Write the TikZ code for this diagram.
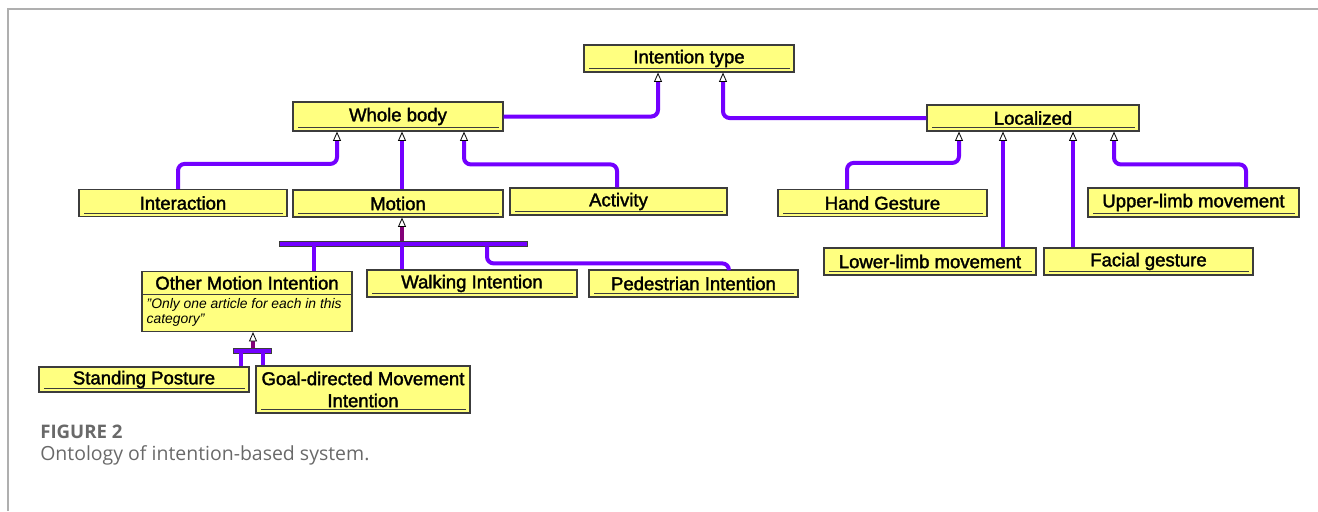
\documentclass[tikz,border=0pt]{standalone}
\usepackage{fontspec}
\setmainfont{Liberation Sans}
\newfontfamily\clsfont{Liberation Sans}[FakeBold=1.8]
\newfontfamily\capfont{Open Sans}
\usetikzlibrary{arrows.meta,shapes.multipart}

\definecolor{clsyellow}{RGB}{255,255,128}
\definecolor{clsedge}{RGB}{60,60,60}
\definecolor{linkviolet}{RGB}{115,0,255}
\definecolor{linkplum}{RGB}{130,0,120}
\definecolor{framegray}{RGB}{175,175,175}
\definecolor{capgray}{RGB}{105,105,105}

\tikzset{
  cls/.style={draw=clsedge, line width=0.9pt, fill=clsyellow, inner sep=0pt,
    minimum width=157.5pt, minimum height=20.25pt,
    font=\clsfont\fontsize{13.9}{16.5}\selectfont,
    path picture={\draw[clsedge,line width=0.8pt]
      ([xshift=4pt,yshift=2.6pt]path picture bounding box.south west) --
      ([xshift=-3pt,yshift=2.6pt]path picture bounding box.south east);}},
  isa/.style={linkviolet, line width=3pt, rounded corners=5pt,
    -{Triangle[open,fill=white,color=black,width=6pt,length=7pt,line width=0.6pt]}},
  part/.style={linkviolet, line width=3pt, rounded corners=5pt},
  joinbar/.style={draw=clsedge, fill=linkviolet, line width=0.6pt, inner sep=0pt,
    minimum height=3.75pt},
}

\begin{document}
\begin{tikzpicture}[x=0.75pt,y=-0.75pt]
  \useasboundingbox (0,0) rectangle (1318,511);
  \draw[framegray, line width=1.4pt] (8,511) -- (8,9) -- (1318,9);

  % classes
  \node[cls] (intent) at (689,58.5) {Intention type};
  \node[cls, minimum height=21.75pt] (whole) at (398,116.5) {Whole body};
  \node[cls, minimum width=159pt, minimum height=19.5pt] (local) at (1033,118) {Localized};

  \node[cls, minimum width=156pt] (inter) at (183,203) {Interaction};
  \node[cls] (motion) at (398,203.5) {Motion};
  \node[cls, minimum width=162.75pt] (activ) at (618.5,201.5) {Activity};
  \node[cls, minimum width=156.75pt] (hand) at (882.5,203) {Hand Gesture};
  \node[cls, minimum width=158.25pt, minimum height=21.75pt] (upper) at (1193.5,202.5) {Upper-limb movement};
  \node[cls, minimum width=159pt] (lower) at (930,261.5) {Lower-limb movement};
  \node[cls, minimum width=156.75pt] (facial) at (1148.5,261.5) {Facial gesture};

  \node[draw=clsedge, line width=0.9pt, fill=clsyellow, rectangle split,
    rectangle split parts=2, rectangle split part align={center,left},
    inner xsep=3.5pt, inner ysep=3pt, align=left,
    minimum width=157.5pt, minimum height=47.25pt,
    font=\clsfont\fontsize{13.9}{16.5}\selectfont] (other) at (247,301.5)
    {Other Motion Intention
     \nodepart[font=\itshape\fontsize{10.4}{11.25}\selectfont]{two}
     "Only one article for each in this\\category"};
  \node[cls] (walk) at (472,283.5) {Walking Intention};
  \node[cls, minimum width=156.75pt] (ped) at (693.5,283.5) {Pedestrian Intention};

  \node[cls, minimum height=18.75pt] (stand) at (144,379.5) {Standing Posture};
  \node[cls, minimum width=160.5pt, minimum height=35.25pt, align=center] (goal) at (363,389.5)
    {Goal-directed Movement\\Intention};

  % join bars
  \node[joinbar, minimum width=186pt] (mbar) at (403,243.5) {};
  \node[joinbar, minimum width=28.5pt] (obar) at (252,350.5) {};

  % generalisations
  \draw[isa] (whole.east) -| ([xshift=-23.25pt]intent.south);
  \draw[isa] (local.west) -| ([xshift=25.5pt]intent.south);

  \draw[isa] ([xshift=-3.75pt]inter.north) -- ++(0,-25) -| ([xshift=-45.75pt]whole.south);
  \draw[isa] ([xshift=3pt]motion.north) -- ([xshift=3pt]whole.south);
  \draw[isa] ([xshift=-1.1pt]activ.north) -- ++(0,-23) -| ([xshift=49.5pt]whole.south);

  \draw[isa] ([xshift=-26.6pt]hand.north) -- ++(0,-26) -| ([xshift=-55.5pt]local.south);
  \draw[isa] ([xshift=54.75pt]lower.north) -- ([xshift=54.75pt]lower.north |- local.south);
  \draw[isa] ([xshift=-56.6pt]facial.north) -- ([xshift=-56.6pt]facial.north |- local.south);
  \draw[isa] ([xshift=39.4pt]upper.north) -- ++(0,-23) -| ([xshift=60.75pt]local.south);

  % Motion group
  \draw[isa, linkplum] ([xshift=3pt]motion.south |- mbar.north) -- ([xshift=3pt]motion.south);
  \draw[part] ([xshift=50.25pt]other.north |- mbar.south) -- ([xshift=50.25pt]other.north);
  \draw[part] ([xshift=-52.5pt]walk.north |- mbar.south) -- ([xshift=-52.5pt]walk.north);
  \draw[part] ([xshift=63pt]mbar.south) -- ++(0,17) -| ([xshift=26.6pt]ped.north);

  % Other Motion group
  \draw[isa, linkplum] ([xshift=4.5pt]other.south |- obar.north) -- ([xshift=4.5pt]other.south);
  \draw[part] ([xshift=72.75pt]stand.north |- obar.south) -- ([xshift=72.75pt]stand.north);
  \draw[part] ([xshift=-75pt]goal.north |- obar.south) -- ([xshift=-75pt]goal.north);

  % caption
  \node[anchor=base west, inner sep=0pt, text=capgray,
    font=\capfont\bfseries\fontsize{14}{16}\selectfont] (figno) at (40,438) {FIGURE 2};
  \node[anchor=base west, inner sep=0pt, text=capgray,
    font=\capfont\fontsize{14.6}{16}\selectfont] (figcap) at (40,460) {Ontology of intention-based system.};
\end{tikzpicture}
\end{document}
